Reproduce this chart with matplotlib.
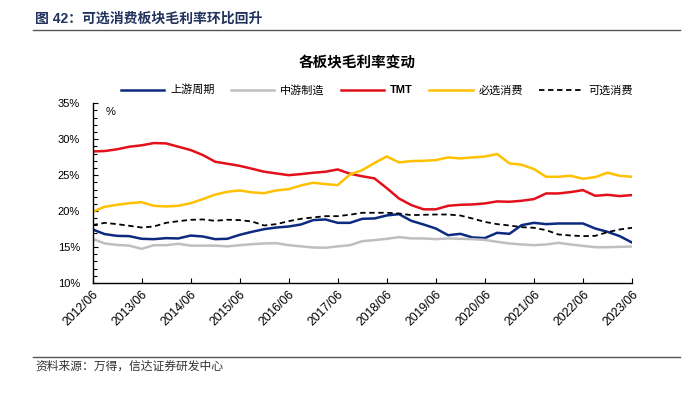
import matplotlib
matplotlib.use("Agg")
import matplotlib.pyplot as plt
from matplotlib.ticker import MultipleLocator, FuncFormatter
from matplotlib.lines import Line2D

plt.rcParams['font.family'] = ['Liberation Sans', 'Noto Sans CJK SC', 'DejaVu Sans']

quarters = [f"{y}/{m:02d}" for y in range(2012, 2024) for m in (3, 6, 9, 12)][1:-2]
tick_labels = [f"{y}/06" for y in range(2012, 2024)]

upstream = [17.45, 16.8, 16.56, 16.52, 16.15, 16.1, 16.24, 16.2, 16.6, 16.47,
            16.1, 16.15, 16.7, 17.12, 17.49, 17.72, 17.86, 18.14, 18.75, 18.84,
            18.37, 18.37, 18.93, 18.98, 19.4, 19.58, 18.65, 18.14, 17.58, 16.65,
            16.84, 16.33, 16.25, 16.98, 16.84, 18.05, 18.37, 18.19, 18.28, 18.28,
            18.28, 17.58, 17.12, 16.52, 15.63]
midstream = [16.15, 15.5, 15.3, 15.2, 14.75, 15.26, 15.26, 15.45, 15.2, 15.2,
             15.2, 15.1, 15.26, 15.4, 15.5, 15.54, 15.26, 15.1, 14.94, 14.9,
             15.1, 15.26, 15.82, 15.96, 16.15, 16.38, 16.2, 16.2, 16.1, 16.2,
             16.15, 16.1, 16.0, 15.73, 15.5, 15.36, 15.26, 15.36, 15.59, 15.36,
             15.17, 14.98, 14.98, 15.03, 15.08]
tmt = [28.3, 28.36, 28.6, 28.96, 29.15, 29.47, 29.42, 28.96, 28.5, 27.8,
       26.87, 26.59, 26.3, 25.9, 25.48, 25.24, 25.0, 25.15, 25.34, 25.48,
       25.8, 25.2, 24.85, 24.55, 23.2, 21.75, 20.84, 20.25, 20.25, 20.74,
       20.88, 20.93, 21.07, 21.35, 21.3, 21.44, 21.67, 22.46, 22.46, 22.65,
       22.92, 22.13, 22.27, 22.09, 22.23]
staples = [19.9, 20.6, 20.88, 21.1, 21.25, 20.74, 20.65, 20.74, 21.1, 21.67,
           22.3, 22.69, 22.88, 22.6, 22.5, 22.88, 23.06, 23.57, 23.95, 23.76,
           23.62, 25.1, 25.7, 26.7, 27.6, 26.78, 26.96, 27.0, 27.1, 27.47,
           27.33, 27.47, 27.6, 27.94, 26.64, 26.45, 25.85, 24.78, 24.78, 24.92,
           24.5, 24.73, 25.34, 24.92, 24.78]
discretionary = [18.05, 18.37, 18.19, 17.96, 17.72, 17.86, 18.37, 18.6, 18.79, 18.84,
                 18.65, 18.8, 18.75, 18.56, 18.0, 18.19, 18.6, 18.93, 19.12, 19.3,
                 19.3, 19.5, 19.77, 19.77, 19.77, 19.67, 19.44, 19.49, 19.53, 19.53,
                 19.39, 18.97, 18.5, 18.19, 18.0, 17.77, 17.68, 17.35, 16.75, 16.61,
                 16.52, 16.56, 17.07, 17.45, 17.68]

series_names = ["上游周期", "中游制造", "TMT", "必选消费", "可选消费"]

W, H = 684, 396
fig = plt.figure(figsize=(W / 100, H / 100), dpi=100)

# header
fig.text(35 / W, 1 - 19 / H, "图 42：可选消费板块毛利率环比回升", fontsize=10,
         fontweight='bold', color='#23335f', ha='left', va='center')
fig.add_artist(Line2D([33 / W, 680 / W], [1 - 29.5 / H, 1 - 29.5 / H],
                      color='#555555', lw=1.0, transform=fig.transFigure))
# footer
fig.add_artist(Line2D([33 / W, 680 / W], [1 - 357 / H, 1 - 357 / H],
                      color='#555555', lw=1.0, transform=fig.transFigure))
fig.text(35 / W, 1 - 367 / H, "资料来源：万得，信达证券研发中心", fontsize=8.5,
         color='#333333', ha='left', va='center')

fig.text(357 / W, 1 - 63 / H, "各板块毛利率变动", fontsize=10.5, fontweight='bold',
         color='black', ha='center', va='center')

left, right, top, bottom = 92.5, 632, 103.3, 283
ax = fig.add_axes([left / W, 1 - bottom / H, (right - left) / W, (bottom - top) / H])

x = list(range(len(quarters)))
ax.plot(x, upstream, color='#0c2a80', lw=1.8, label=series_names[0])
ax.plot(x, midstream, color='#bfbfbf', lw=1.8, label=series_names[1])
ax.plot(x, tmt, color='#e3101c', lw=1.8, label=series_names[2])
ax.plot(x, staples, color='#ffc000', lw=1.8, label=series_names[3])
ax.plot(x, discretionary, color='black', lw=1.3, ls=(0, (3, 2)), label=series_names[4])

ax.set_xlim(0, len(quarters) - 1)
ax.set_ylim(10, 35)
ax.yaxis.set_major_locator(MultipleLocator(5))
ax.yaxis.set_minor_locator(MultipleLocator(1))
ax.yaxis.set_major_formatter(FuncFormatter(lambda v, p: f"{v:.0f}%"))
ax.set_xticks(list(range(0, len(quarters), 4)))
ax.set_xticklabels(tick_labels, rotation=45, ha='right', rotation_mode='anchor')

for s in ['top', 'right']:
    ax.spines[s].set_visible(False)
for s in ['left', 'bottom']:
    ax.spines[s].set_color('black')
    ax.spines[s].set_linewidth(1.0)
ax.tick_params(axis='y', which='major', direction='in', length=3.5, width=0.8,
               labelsize=8, pad=9, colors='black')
ax.tick_params(axis='y', which='minor', direction='in', length=3, width=0.8)
ax.tick_params(axis='x', which='major', direction='in', length=3.5, width=0.8,
               labelsize=8.8, pad=4)

ax.text(0.025, 0.95, "%", transform=ax.transAxes, fontsize=8, ha='left', va='center')

leg = fig.legend(loc='center', bbox_to_anchor=(377 / W, 1 - 90 / H), ncol=5,
                 frameon=False, fontsize=8, handlelength=3.9, handletextpad=0.55,
                 columnspacing=1.45, borderaxespad=0)
for t in leg.get_texts():
    if t.get_text() == "TMT":
        t.set_fontweight('bold')

fig.savefig("out.png", dpi=100)
